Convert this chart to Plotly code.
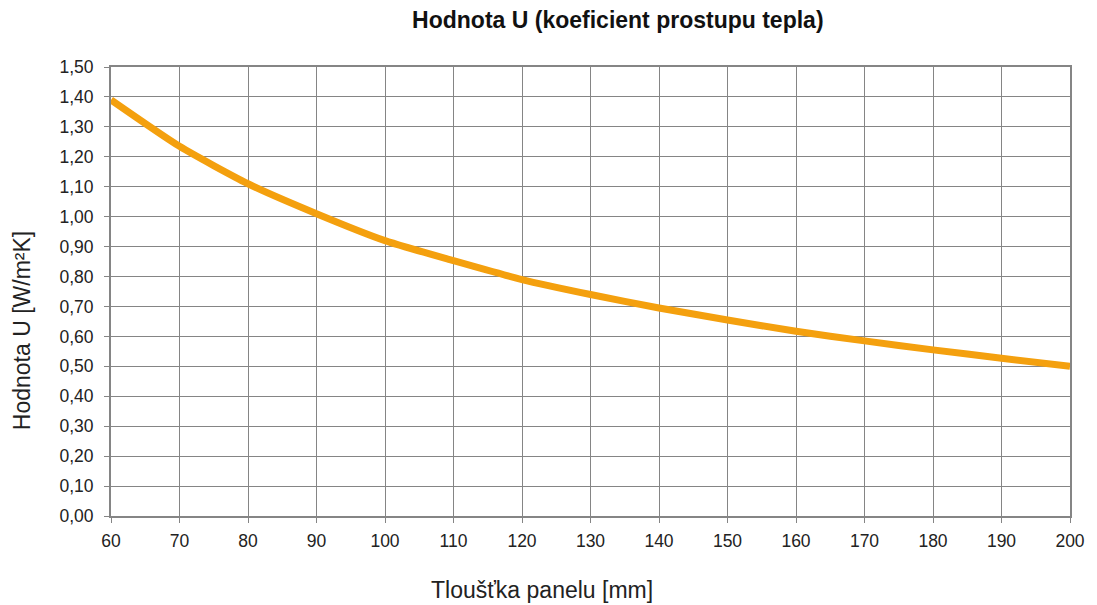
import plotly.graph_objects as go

thickness_mm = [60, 70, 80, 90, 100, 110, 120, 130, 140, 150, 160, 170, 180, 190, 200]
u_value = [1.39, 1.235, 1.11, 1.01, 0.92, 0.853, 0.79, 0.74, 0.695, 0.655, 0.617, 0.585, 0.555, 0.527, 0.50]

y_ticks = [i / 10 for i in range(0, 16)]
y_labels = [f"{v:.2f}".replace(".", ",") for v in y_ticks]
x_ticks = list(range(60, 201, 10))

fig = go.Figure()
fig.add_trace(go.Scatter(
    x=thickness_mm, y=u_value, mode="lines",
    line=dict(color="#F4A00E", width=7, shape="spline", smoothing=0.6),
    hoverinfo="x+y", showlegend=False,
))

font = "Liberation Sans, Arial, sans-serif"
fig.update_layout(
    width=1089, height=597,
    margin=dict(l=103, r=25, t=59, b=89),
    paper_bgcolor="white", plot_bgcolor="white",
    font=dict(family=font, size=17, color="#222"),
    title=dict(text="<b>Hodnota U (koeficient prostupu tepla)</b>",
               x=0.560, xanchor="center", y=0.98, yanchor="middle",
               font=dict(size=23, color="#111")),
    xaxis=dict(range=[60, 200], tickvals=x_ticks, showgrid=True,
               gridcolor="#858585", gridwidth=1, showline=True,
               linecolor="#858585", linewidth=2, mirror=True,
               ticks="outside", ticklen=5, tickcolor="#858585",
               zeroline=False, tickfont=dict(size=17.5), ticklabelstandoff=3),
    yaxis=dict(range=[0, 1.5], tickvals=y_ticks, ticktext=y_labels,
               showgrid=True, gridcolor="#858585", gridwidth=1,
               showline=True, linecolor="#858585", linewidth=2, mirror=True,
               ticks="outside", ticklen=5, tickcolor="#858585",
               zeroline=False, tickfont=dict(size=17.5), ticklabelstandoff=7),
    annotations=[
        dict(text="Tloušťka panelu [mm]", xref="paper", yref="paper",
             x=0.4495, y=-0.165, xanchor="center", yanchor="middle",
             showarrow=False, font=dict(size=23, color="#222")),
        dict(text="Hodnota U [W/m²K]", xref="paper", yref="paper",
             x=-0.0926, y=0.412, xanchor="center", yanchor="middle",
             textangle=-90, showarrow=False, font=dict(size=23, color="#222")),
    ],
)

fig.write_html("out.html")
